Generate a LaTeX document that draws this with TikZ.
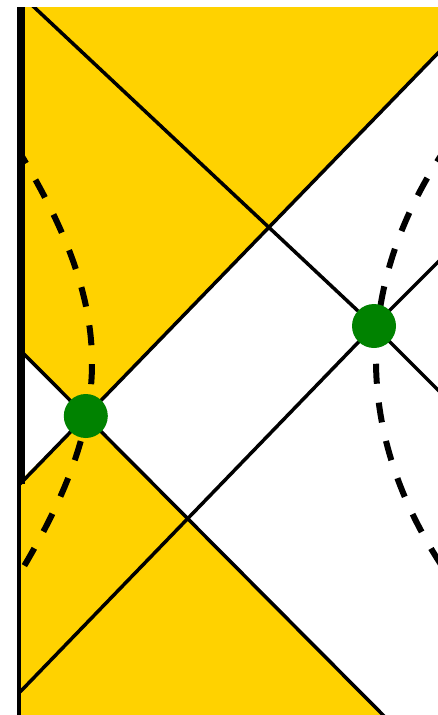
\documentclass[tikz,border=0pt]{standalone}
\usepackage{tikz}
\usetikzlibrary{calc}
\definecolor{wedge}{RGB}{255,210,0}
\definecolor{eventg}{RGB}{0,130,0}

\begin{document}
\begin{tikzpicture}[
  x=1pt, y=-1pt,
  ray/.style={black, line width=3.5pt},
  wall/.style={black, line width=8pt},
  wallthin/.style={black, line width=4pt},
  orbit/.style={black, line width=6pt, dash pattern=on 20pt off 19pt},
  event/.style={circle, fill=eventg, inner sep=0pt, minimum size=44pt},
]
\useasboundingbox (0,0) rectangle (438,715);
\clip (17,7.5) rectangle (438,715);

% points where the rays start and end
\coordinate (oneA) at (26.5,0);
\coordinate (oneB) at (445,397);
\coordinate (twoA) at (445,45.8);
\coordinate (twoB) at (20,484);
\coordinate (thrA) at (20,350);
\coordinate (thrB) at (385,717);
\coordinate (fouA) at (20,692);
\coordinate (fouB) at (445,255);
\coordinate (xL) at (85.8,416);
\coordinate (xR) at (374,326);

% shaded wedges
\fill[wedge] (17,0) -- (445,0) -- (twoA) -- (xL) -- (thrA) -- (17,350) -- cycle;
\fill[wedge] (17,484) -- (xL) -- (thrB) -- (17,720) -- cycle;

% rays
\draw[ray] (oneA) -- (xR) -- (oneB);
\draw[ray] (twoA) -- (twoB);
\draw[ray] (thrA) -- (thrB);
\draw[ray] (fouA) -- (xR) -- (fouB);

% dashed curves
\draw[orbit, dash phase=8pt] (20,153) .. controls (116,313) and (116,413) .. (20,573);
\draw[orbit] (448,145) .. controls (352,285) and (352,435) .. (448,575);

% boundary
\draw[wall] (21,0) -- (21,484);
\draw[wallthin] (19,484) -- (19,720);

% events
\node[event] (evL) at (xL) {};
\node[event] (evR) at (xR) {};
\end{tikzpicture}
\end{document}
